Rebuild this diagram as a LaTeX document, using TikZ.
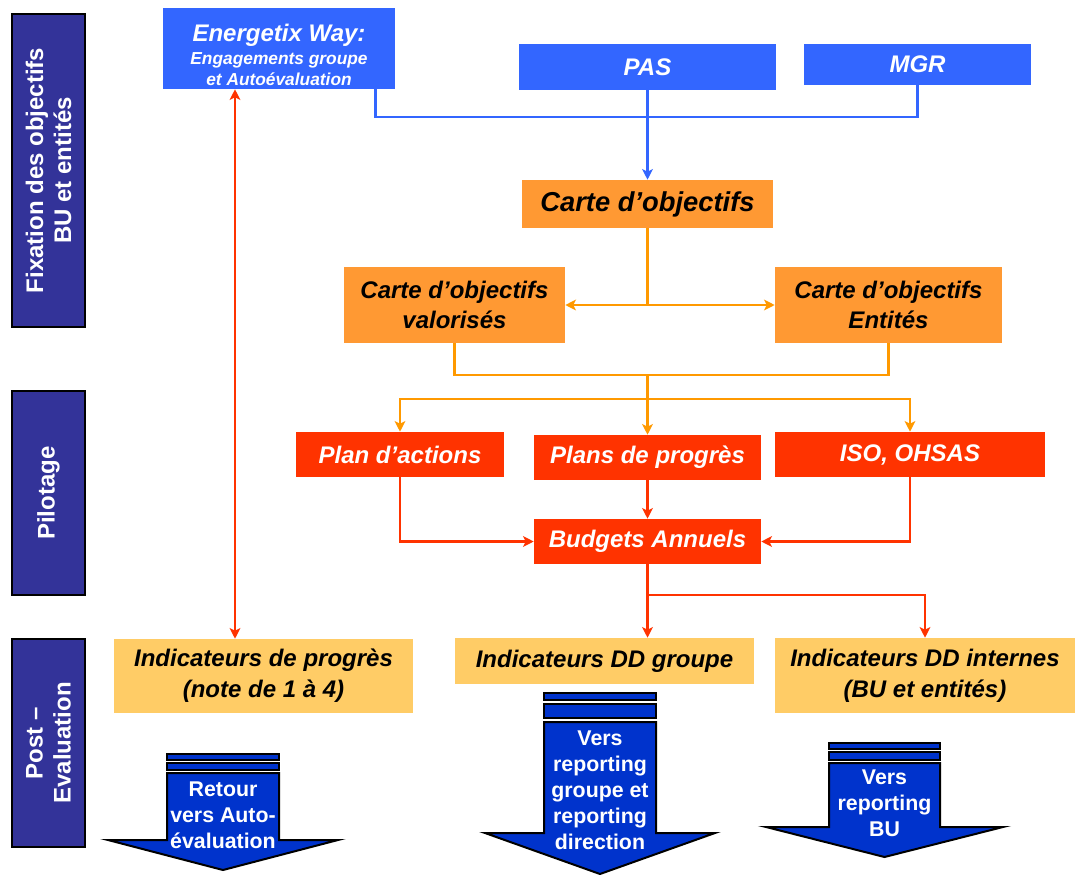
\documentclass[tikz,border=0pt]{standalone}
\usepackage{fontspec}
\setmainfont{Liberation Sans}
\usetikzlibrary{arrows.meta}
\definecolor{boxblue}{HTML}{3366FF}
\definecolor{boxorange}{HTML}{FF9933}
\definecolor{lineorange}{HTML}{FF9900}
\definecolor{boxred}{HTML}{FF3300}
\definecolor{boxyellow}{HTML}{FFCC66}
\definecolor{barblue}{HTML}{333399}
\definecolor{arrowblue}{HTML}{0033CC}
\tikzset{
  sz/.style 2 args={minimum width=#1*0.75pt, minimum height=#2*0.75pt},
  bx/.style={rectangle, inner sep=0pt, align=center, font=\bfseries\itshape\fontsize{18}{23}\selectfont},
  bluebox/.style={bx, fill=boxblue, text=white},
  orangebox/.style={bx, fill=boxorange, text=black},
  redbox/.style={bx, fill=boxred, text=white},
  yellowbox/.style={bx, fill=boxyellow, text=black},
  bar/.style={rectangle, draw=black, line width=0.8pt, fill=barblue, text=white, rotate=90, inner sep=0pt, align=center, font=\bfseries\fontsize{18}{21}\selectfont},
  bline/.style={draw=boxblue, line width=2pt},
  oline/.style={draw=lineorange, line width=2pt},
  rline/.style={draw=boxred, line width=2pt},
  barrow/.style={draw=black, line width=1.5pt, fill=arrowblue},
  atext/.style={text=white, align=center, inner sep=0pt, font=\bfseries\fontsize{16}{19.5}\selectfont}
}
\begin{document}
\begin{tikzpicture}[x=0.75pt, y=-0.75pt, >={Stealth[length=8pt,width=8pt,inset=2pt]}]
\useasboundingbox (0,0) rectangle (1075,875);

\node[bar, sz={313}{73}] (fix) at (48.5,170.5) {Fixation des objectifs\\BU et entités};
\node[bar, sz={204}{73}] (pil) at (48.5,493) {Pilotage};
\node[bar, sz={208}{73}] (post) at (48.5,743) {Post –\\Evaluation};

\node[bluebox, sz={232}{81}, font=\bfseries\itshape\fontsize{13}{16}\selectfont] (energ) at (279,48.5) {{\fontsize{18}{23}\selectfont\rule{0pt}{23pt}Energetix Way:}\\[1pt]Engagements groupe\\et Autoévaluation};
\node[bluebox, sz={257}{46}] (pas) at (647.5,67) {PAS};
\node[bluebox, sz={227}{41}] (mgr) at (917.5,64.5) {MGR};

\node[orangebox, sz={251}{48}, font=\bfseries\itshape\fontsize{20.5}{24}\selectfont] (carte) at (647.5,204) {Carte d’objectifs};
\node[orangebox, sz={221}{76}] (valo) at (454.5,305) {Carte d’objectifs\\valorisés};
\node[orangebox, sz={227}{76}] (enti) at (888.5,305) {Carte d’objectifs\\Entités};

\node[redbox, sz={208}{45}] (plan) at (400,454.5) {Plan d’actions};
\node[redbox, sz={227}{45}] (prog) at (647.5,457.5) {Plans de progrès};
\node[redbox, sz={270}{45}] (iso) at (910,454.5) {ISO, OHSAS};
\node[redbox, sz={227}{45}] (budg) at (647.5,541.5) {Budgets Annuels};

\node[yellowbox, sz={299}{74}] (indp) at (263.5,676) {Indicateurs de progrès\\(note de 1 à 4)};
\node[yellowbox, sz={299}{46}] (indg) at (604.5,661) {Indicateurs DD groupe};
\node[yellowbox, sz={300}{75}] (indi) at (925,675.5) {Indicateurs DD internes\\(BU et entités)};

\coordinate (jb) at (647.5,117);
\draw[bline] ([xshift=-15pt]energ.south east) |- (jb) -| (mgr.south);
\draw[bline,->] (pas.south) -- (carte.north);

\draw[oline] (carte.south) -- (carte.south |- valo.east);
\draw[oline,<->] (valo.east) -- (enti.west);
\coordinate (jo) at (647.5,375);
\coordinate (jp) at (647.5,399);
\draw[oline] (valo.south) |- (jo) -| (enti.south);
\draw[oline] (jo) -- (jp);
\draw[oline,->] (jp) -| (plan.north);
\draw[oline,->] (jp) -- (prog.north);
\draw[oline,->] (jp) -| (iso.north);

\draw[rline,->] (prog.south) -- (budg.north);
\draw[rline,->] (plan.south) |- (budg.west);
\draw[rline,->] (iso.south) |- (budg.east);
\coordinate (jr) at (647.5,595);
\draw[rline,->] (budg.south) -- (budg.south |- indg.north);
\draw[rline,->] (jr) -| (indi.north);
\coordinate (rx) at (235,0);
\draw[rline,<->] (energ.south -| rx) -- (indp.north -| rx);

\draw[barrow] (167,754) rectangle (279,760);
\draw[barrow] (167,763) rectangle (279,770);
\draw[barrow] (167,773) -- (279,773) -- (279,840) -- (338,840) -- (223,870) -- (108,840) -- (167,840) -- cycle;
\node[atext] (retour) at (223,815) {Retour\\vers Auto-\\évaluation};

\draw[barrow] (544,693) rectangle (656,700);
\draw[barrow] (544,704) rectangle (656,718);
\draw[barrow] (544,722) -- (656,722) -- (656,833) -- (715,833) -- (600,874) -- (485,833) -- (544,833) -- cycle;
\node[atext] (versg) at (600,790) {Vers\\reporting\\groupe et\\reporting\\direction};

\draw[barrow] (829,743) rectangle (940,749);
\draw[barrow] (829,752) rectangle (940,760);
\draw[barrow] (829,763) -- (940,763) -- (940,827) -- (1003,827) -- (884.5,857) -- (766,827) -- (829,827) -- cycle;
\node[atext] (versbu) at (884.5,803) {Vers\\reporting\\BU};

\end{tikzpicture}
\end{document}
